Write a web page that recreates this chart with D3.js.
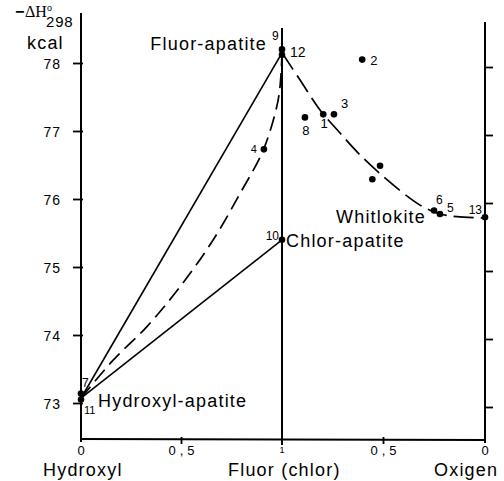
<!DOCTYPE html>
<html>
<head>
<meta charset="utf-8">
<script src="https://cdn.jsdelivr.net/npm/d3@7/dist/d3.min.js"></script>
<style>
  html, body { margin: 0; padding: 0; background: #fff; }
  svg { display: block; }
  text { font-family: "Liberation Sans", Arial, Helvetica, sans-serif; fill: #000; }
</style>
</head>
<body>
<div id="chart"></div>
<script>
// Enthalpy of formation, -ΔH°298 (kcal), across the apatite / whitlockite series.
const yTicks = [73, 74, 75, 76, 77, 78];
const hydroxylSideTicks = [0, 0.5];          // fluor(chlor) fraction, left panel
const oxygenSideTicks = [1, 0.5, 0];         // fluor(chlor) fraction, right panel

// Left panel: hydroxyl ↔ fluor / chlor apatite
const hydroxylSideIds   = ['9', '12', '10', '4', '7', '11'];
const hydroxylSideFluor = [1, 1, 1, 0.91, 0, 0];
const hydroxylSideDH    = [78.2, 78.12, 75.4, 76.73, 73.14, 73.05];

// Right panel: fluor-apatite ↔ oxygen (whitlockite)
const oxygenSideIds   = ['2', '1', '3', '8', '', '', '6', '5', '13'];
const oxygenSideFluor = [0.605, 0.797, 0.744, 0.887, 0.517, 0.555, 0.251, 0.222, 0];
const oxygenSideDH    = [78.05, 77.245, 77.245, 77.2, 76.49, 76.29, 75.83, 75.78, 75.73];

// Straight mixing lines from hydroxyl-apatite
const mixFluor   = [0, 1];
const mixToFluor = [73.07, 78.15];
const mixToChlor = [73.07, 75.4];

// Dashed trend, hydroxyl → fluor
const trendLeftFluor = [0, 0.16, 0.327, 0.493, 0.658, 0.791, 0.907, 0.974, 0.99, 1];
const trendLeftDH    = [73.07, 73.63, 74.12, 74.71, 75.40, 76.08, 76.72, 77.36, 77.65, 78.12];

// Dashed trend, fluor → oxygen
const trendRightFluor = [1, 0.911, 0.813, 0.714, 0.616, 0.493, 0.369, 0.296, 0.222, 0.138, 0];
const trendRightDH    = [78.15, 77.75, 77.31, 76.97, 76.65, 76.31, 76.01, 75.87, 75.78, 75.74, 75.72];

const W = 504, H = 481;
const svg = d3.select('#chart').append('svg').attr('width', W).attr('height', H);

const y = d3.scaleLinear().domain([73, 78]).range([403, 63]);
const xL = d3.scaleLinear().domain([0, 1]).range([81, 282]);
const xR = d3.scaleLinear().domain([1, 0]).range([282, 485]);
const axisBase = 439;

const fmt = v => String(v).replace('.', ',');

// ---- frame lines
const frame = svg.append('g').attr('stroke', '#000').attr('stroke-width', 2).attr('fill', 'none');
frame.append('line').attr('x1', xL(0)).attr('x2', xL(0)).attr('y1', 13).attr('y2', axisBase + 3);
frame.append('line').attr('x1', xL(1)).attr('x2', xL(1)).attr('y1', 28).attr('y2', axisBase + 6);
frame.append('line').attr('x1', xR(0)).attr('x2', xR(0)).attr('y1', 22).attr('y2', axisBase + 4);
frame.append('line').attr('x1', xL(0)).attr('x2', xR(0)).attr('y1', axisBase).attr('y2', axisBase + 1);

// ---- left axis with labels
const leftAxis = svg.append('g').attr('transform', `translate(${xL(0)},0)`)
  .call(d3.axisLeft(y).tickValues(yTicks).tickFormat(d3.format('d'))
    .tickSize(8).tickPadding(12).tickSizeOuter(0));
leftAxis.select('.domain').remove();
leftAxis.selectAll('.tick line').attr('stroke', '#000').attr('stroke-width', 1.8).attr('x2', -8).attr('x1', 2);
leftAxis.selectAll('.tick text').attr('font-size', 14).attr('dy', '0.36em')
  .style('letter-spacing', '1px').style('font-family', '"Liberation Sans", Arial, sans-serif');

// ---- right axis, ticks only
const rightAxis = svg.append('g').attr('transform', `translate(${xR(0)},4)`)
  .call(d3.axisRight(y).tickValues(yTicks).tickSize(8).tickFormat('').tickSizeOuter(0));
rightAxis.select('.domain').remove();
rightAxis.selectAll('.tick line').attr('stroke', '#000').attr('stroke-width', 1.8);

// ---- bottom tick marks and labels
const bottom = svg.append('g');
const bottomTicks = hydroxylSideTicks.map(v => ({ x: xL(v), v }))
  .concat(oxygenSideTicks.map(v => ({ x: xR(v), v })));
bottom.selectAll('line.bt').data(bottomTicks.filter(d => d.v === 0.5)).join('line')
  .attr('class', 'bt').attr('x1', d => d.x).attr('x2', d => d.x)
  .attr('y1', axisBase - 2).attr('y2', axisBase + 5)
  .attr('stroke', '#000').attr('stroke-width', 1.8);
bottom.selectAll('text').data(bottomTicks).join('text')
  .attr('x', d => d.x + (d.v === 0.5 ? 2 : 0))
  .attr('y', d => d.v === 1 ? 453 : 455)
  .attr('text-anchor', 'middle')
  .attr('font-size', d => d.v === 1 ? 9 : 13)
  .style('letter-spacing', d => d.v === 0.5 ? '4px' : '0px')
  .text(d => fmt(d.v));

// ---- axis titles
const titles = svg.append('g').attr('font-size', 18).style('letter-spacing', '1.2px');
titles.append('text').attr('x', 43).attr('y', 476).text('Hydroxyl');
titles.append('text').attr('x', 228).attr('y', 476).text('Fluor (chlor)');
titles.append('text').attr('x', 434).attr('y', 476).text('Oxigen');
titles.append('text').attr('x', 27).attr('y', 49).text('kcal');

// ---- quantity symbol −ΔH°298
const head = svg.append('g');
head.append('text').attr('x', 15).attr('y', 17).attr('font-size', 16).attr('font-weight', 'bold').text('−');
head.append('text').attr('x', 25).attr('y', 17).attr('font-size', 16)
  .style('font-family', '"Liberation Serif", "DejaVu Serif", serif').text('ΔH');
head.append('text').attr('x', 47).attr('y', 11).attr('font-size', 9).text('o');
head.append('text').attr('x', 46).attr('y', 27).attr('font-size', 15)
  .style('letter-spacing', '0.8px').text('298');

// ---- mixing lines
const lineL = d3.line().x(d => xL(d[0])).y(d => y(d[1]));
const lines = svg.append('g').attr('fill', 'none').attr('stroke', '#000');
lines.append('path').attr('stroke-width', 1.6)
  .attr('d', lineL(d3.zip(mixFluor, mixToFluor)));
lines.append('path').attr('stroke-width', 1.6)
  .attr('d', lineL(d3.zip(mixFluor, mixToChlor)));

// ---- dashed trend curves
lines.append('path').attr('stroke-width', 1.7).attr('stroke-dasharray', '15,7')
  .attr('d', d3.line().curve(d3.curveCatmullRom).x(d => xL(d[0])).y(d => y(d[1]))(d3.zip(trendLeftFluor, trendLeftDH)));
lines.append('path').attr('stroke-width', 1.7).attr('stroke-dasharray', '20,7')
  .attr('d', d3.line().curve(d3.curveCatmullRom).x(d => xR(d[0])).y(d => y(d[1]))(d3.zip(trendRightFluor, trendRightDH)));

// ---- data points
const leftPts = hydroxylSideIds.map((id, i) => ({ id, x: xL(hydroxylSideFluor[i]), y: y(hydroxylSideDH[i]) }));
const rightPts = oxygenSideIds.map((id, i) => ({ id, x: xR(oxygenSideFluor[i]), y: y(oxygenSideDH[i]) }));
const allPts = leftPts.concat(rightPts);

svg.append('g').selectAll('circle').data(allPts).join('circle')
  .attr('cx', d => d.x).attr('cy', d => d.y).attr('r', 3.3).attr('fill', '#000');

// point number labels: [dx, dy, anchor, size]
const numPos = {
  '9':  [-10, -9, 'start', 12],
  '12': [8, 2, 'start', 14],
  '10': [-3, 0, 'end', 12],
  '4':  [-7, 4, 'end', 11],
  '7':  [1, -6, 'start', 12],
  '11': [3, 14, 'start', 11],
  '2':  [8, 5, 'start', 13],
  '1':  [1, 14, 'middle', 13],
  '3':  [7, -6, 'start', 13],
  '8':  [1, 18, 'middle', 13],
  '6':  [2, -7, 'start', 12],
  '5':  [7, -2, 'start', 12],
  '13': [-3, -3, 'end', 12]
};
svg.append('g').selectAll('text').data(allPts.filter(d => d.id)).join('text')
  .attr('x', d => d.x + numPos[d.id][0])
  .attr('y', d => d.y + numPos[d.id][1])
  .attr('text-anchor', d => numPos[d.id][2])
  .attr('font-size', d => numPos[d.id][3])
  .text(d => d.id);

// ---- compound names
const names = svg.append('g').attr('font-size', 18).style('letter-spacing', '1.2px');
names.append('text').attr('x', 267).attr('y', 50).attr('text-anchor', 'end').text('Fluor-apatite');
names.append('text').attr('x', 286).attr('y', 247).text('Chlor-apatite');
names.append('text').attr('x', 98).attr('y', 407).text('Hydroxyl-apatite');
names.append('text').attr('x', 336).attr('y', 223).text('Whitlokite');
</script>
</body>
</html>
